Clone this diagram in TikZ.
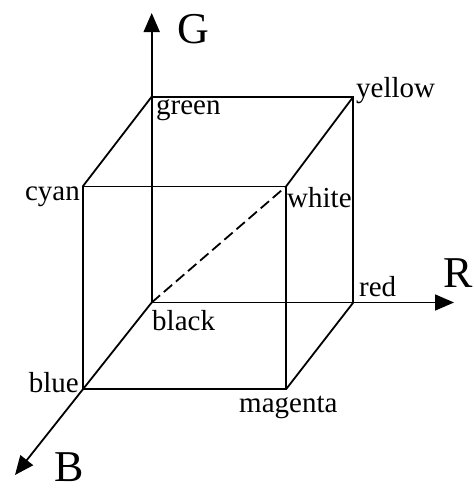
\documentclass[tikz,border=0pt]{standalone}
\usepackage{fontspec}
\setmainfont{Liberation Serif}
\usetikzlibrary{arrows.meta}
\begin{document}
\begin{tikzpicture}[x=1pt,y=-1pt,
  edge/.style={line width=1.8pt},
  axis/.style={line width=1.8pt,-{Triangle[length=19pt,width=16pt]}},
  hidden/.style={line width=1.8pt,dash pattern=on 11pt off 5pt},
  lbl/.style={inner sep=0pt,font=\fontsize{29}{29}\selectfont},
  axlbl/.style={inner sep=0pt,text depth=0pt,font=\fontsize{44}{44}\selectfont}]
\useasboundingbox (0,0) rectangle (474,491);
% corners
\coordinate (K) at (151.7,302.5);
\coordinate (Gr) at (151.7,96.7);
\coordinate (Y) at (353.3,96.7);
\coordinate (Rd) at (353.3,302.5);
\coordinate (C) at (82.7,186.5);
\coordinate (W) at (286,186.5);
\coordinate (Bl) at (82.7,389.3);
\coordinate (M) at (286,389.3);
% axis tips
\coordinate (Gtip) at (151.7,13);
\coordinate (Rtip) at (454,302.5);
\coordinate (Btip) at (15,475);
% axes
\draw[axis] (K) -- (Gtip);
\draw[axis] (K) -- (Rtip);
\draw[axis] (K) -- (Btip);
% cube edges
\draw[edge] (Gr) -- (Y) -- (Rd);
\draw[edge] (C) -- (W) -- (M) -- (Bl) -- cycle;
\draw[edge] (C) -- (Gr);
\draw[edge] (W) -- (Y);
\draw[edge] (M) -- (Rd);
\draw[hidden] (K) -- (W);
% labels
\node[lbl,anchor=base west] (lgreen) at (156,114) {green};
\node[lbl,anchor=base west] (lyellow) at (356,97) {yellow};
\node[lbl,anchor=base west] (lwhite) at (287,207) {white};
\node[lbl,anchor=base east] (lcyan) at (80,200) {cyan};
\node[lbl,anchor=base west] (lblack) at (152,330) {black};
\node[lbl,anchor=base west] (lred) at (359,296) {red};
\node[lbl,anchor=base east] (lblue) at (79,392) {blue};
\node[lbl,anchor=base west] (lmagenta) at (239,412) {magenta};
\node[axlbl,anchor=base west] (lG) at (177,43) {G};
\node[axlbl,anchor=base west] (lR) at (443,287) {R};
\node[axlbl,anchor=base west] (lB) at (54,481) {B};
\end{tikzpicture}
\end{document}
